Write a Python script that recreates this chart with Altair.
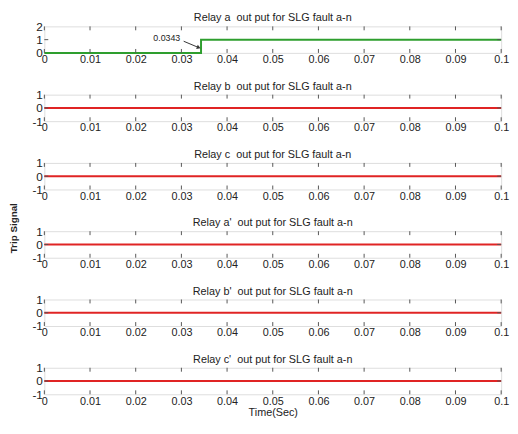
import altair as alt
import pandas as pd

# ---- data ----
TITLES = [
    "Relay a \u00a0out put for SLG fault a-n",
    "Relay b \u00a0out put for SLG fault a-n",
    "Relay c \u00a0out put for SLG fault a-n",
    "Relay a' \u00a0out put for SLG fault a-n",
    "Relay b' \u00a0out put for SLG fault a-n",
    "Relay c' \u00a0out put for SLG fault a-n",
]
TIME_A = [0.0, 0.0343, 0.0343, 0.1]
TRIP_A = [0, 0, 1, 1]
TIME_OTHER = [0.0, 0.1]
TRIP_OTHER = [0, 0]
XTICKS = [0.0, 0.01, 0.02, 0.03, 0.04, 0.05, 0.06, 0.07, 0.08, 0.09, 0.1]
YTICKS_A = [0, 1, 2]
YTICKS_OTHER = [-1, 0, 1]
ANNOT_TEXT = ["0.0343"]
ANNOT_X = [0.0268]
ANNOT_Y = [1.12]
ARROW_X = [0.0305, 0.0338]
ARROW_Y = [0.88, 0.40]

W, H = 465, 27
FONT = "Liberation Sans"
GREEN = "#2e9e2e"
RED = "#e02424"
FRAME = "#8a8a8a"


def panel(i):
    first = i == 0
    last = i == 5
    if first:
        df = pd.DataFrame({"t": TIME_A, "v": TRIP_A})
        ydom = [0, 2]
        yticks = YTICKS_A
        color = GREEN
    else:
        df = pd.DataFrame({"t": TIME_OTHER, "v": TRIP_OTHER})
        ydom = [-1, 1]
        yticks = YTICKS_OTHER
        color = RED

    xscale = alt.Scale(domain=[0, 0.1], nice=False)
    yscale = alt.Scale(domain=ydom, nice=False)

    yaxis_kwargs = dict(values=yticks, labelExpr="'' + datum.value", tickSize=0,
                        domain=False, grid=False, labelFontSize=12,
                        labelPadding=2, labelColor="#222", labelFont=FONT,
                        labelOverlap=False, labelFlush=False)
    if i == 2:
        yaxis_kwargs.update(title="Trip Signal", titleFontSize=10,
                            titleFontWeight="bold", titleFont=FONT,
                            titleX=-26, titleY=66, titleColor="#222")
    else:
        yaxis_kwargs.update(title=None)

    xaxis_kwargs = dict(values=XTICKS, format=".2~f", tickSize=0, domain=False,
                        grid=False, labelFontSize=11, labelPadding=1,
                        labelColor="#222", labelFont=FONT, labelFlush=False,
                        labelOverlap=False)
    if last:
        xaxis_kwargs.update(title="Time(Sec)", titleFontSize=11,
                            titleFontWeight="normal", titleFont=FONT,
                            titlePadding=1, titleColor="#222")
    else:
        xaxis_kwargs.update(title=None)

    xaxis = alt.Axis(**xaxis_kwargs)
    yaxis = alt.Axis(**yaxis_kwargs)

    line = alt.Chart(df).mark_line(color=color, strokeWidth=2, clip=False).encode(
        x=alt.X("t:Q", scale=xscale, axis=xaxis),
        y=alt.Y("v:Q", scale=yscale, axis=yaxis),
    )

    tdf = pd.DataFrame({"tick": XTICKS})
    top_ticks = alt.Chart(tdf).mark_rule(color="#555", strokeWidth=1).encode(
        x=alt.X("tick:Q", scale=xscale, axis=xaxis),
        y=alt.value(0), y2=alt.value(4))
    bot_ticks = alt.Chart(tdf).mark_rule(color="#555", strokeWidth=1).encode(
        x=alt.X("tick:Q", scale=xscale, axis=xaxis),
        y=alt.value(H - 4), y2=alt.value(H))

    ydf = pd.DataFrame({"yt": yticks[1:2]})
    left_ticks = alt.Chart(ydf).mark_rule(color="#555", strokeWidth=1).encode(
        y=alt.Y("yt:Q", scale=yscale, axis=yaxis),
        x=alt.value(0), x2=alt.value(4))
    right_ticks = alt.Chart(ydf).mark_rule(color="#555", strokeWidth=1).encode(
        y=alt.Y("yt:Q", scale=yscale, axis=yaxis),
        x=alt.value(W - 4), x2=alt.value(W))

    layers = [line, top_ticks, bot_ticks, left_ticks, right_ticks]

    if first:
        adf = pd.DataFrame({"x": ANNOT_X, "y": ANNOT_Y, "label": ANNOT_TEXT})
        txt = alt.Chart(adf).mark_text(font=FONT, fontSize=9, color="#222").encode(
            x=alt.X("x:Q", scale=xscale, axis=xaxis),
            y=alt.Y("y:Q", scale=yscale, axis=yaxis),
            text="label:N")
        arrdf = pd.DataFrame({"x": ARROW_X, "y": ARROW_Y})
        arr = alt.Chart(arrdf).mark_line(color="#333", strokeWidth=1).encode(
            x=alt.X("x:Q", scale=xscale, axis=xaxis),
            y=alt.Y("y:Q", scale=yscale, axis=yaxis))
        headdf = pd.DataFrame({"x": ARROW_X[1:], "y": ARROW_Y[1:]})
        head = alt.Chart(headdf).mark_point(shape="triangle-up", filled=True,
                                             color="#333", size=20, angle=112,
                                             opacity=1).encode(
            x=alt.X("x:Q", scale=xscale, axis=xaxis),
            y=alt.Y("y:Q", scale=yscale, axis=yaxis))
        layers += [txt, arr, head]

    return alt.layer(*layers).properties(
        width=W, height=H,
        title=alt.TitleParams(TITLES[i], fontSize=11, font=FONT,
                              fontWeight="normal", color="#222", offset=-3,
                              frame="group"),
    )


chart = alt.vconcat(*[panel(i) for i in range(6)], spacing=42.5, bounds="flush").properties(
    padding=0
).configure_view(
    stroke=FRAME, strokeWidth=1
).configure(background="white")

chart.save("out.html", embed_options={"renderer": "svg", "actions": False})
